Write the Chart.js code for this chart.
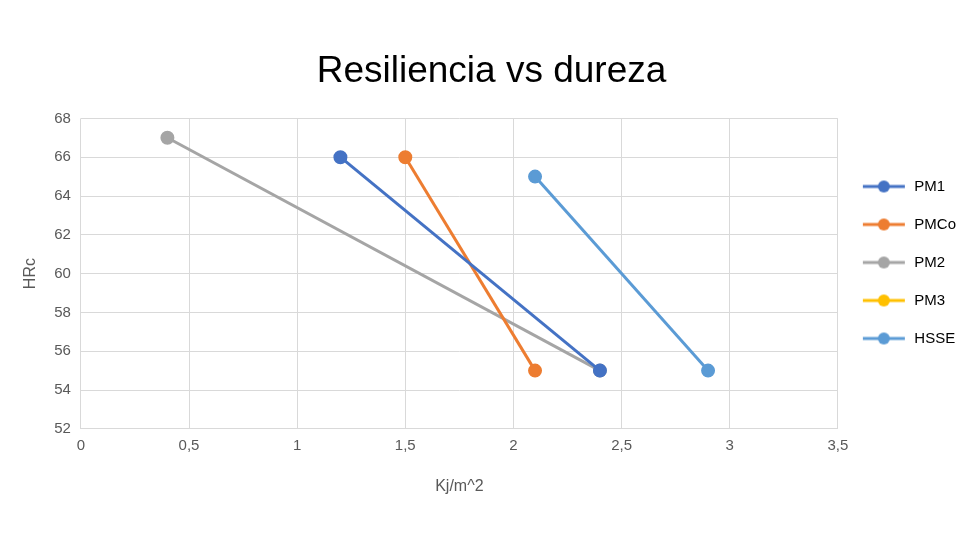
<!DOCTYPE html>
<html><head><meta charset="utf-8">
<script src="https://cdn.jsdelivr.net/npm/chart.js@4/dist/chart.umd.min.js"></script>
<style>html,body{margin:0;background:#fff}#w{width:980px;height:560px}</style>
</head><body><div id="w"><canvas id="c"></canvas></div>
<script>
const seriesNames=["PM1","PMCo","PM2","PM3","HSSE"];
const seriesColors=["#4472C4","#ED7D31","#A5A5A5","#FFC000","#5B9BD5"];
const pm1=[{x:1.2,y:66},{x:2.4,y:55}];
const pmco=[{x:1.5,y:66},{x:2.1,y:55}];
const pm2=[{x:0.4,y:67},{x:2.4,y:55}];
const pm3=[];
const hsse=[{x:2.1,y:65},{x:2.9,y:55}];
const allData=[pm1,pmco,pm2,pm3,hsse];
function icon(col){const c=document.createElement('canvas');c.width=46;c.height=14;const g=c.getContext('2d');
g.strokeStyle=col;g.lineWidth=3;g.beginPath();g.moveTo(2,7);g.lineTo(44,7);g.stroke();
g.fillStyle=col;g.beginPath();g.arc(23,7,6,0,Math.PI*2);g.fill();return c;}
const icons=seriesColors.map(icon);
new Chart(document.getElementById('c'),{type:'scatter',
data:{datasets:seriesNames.map((n,i)=>({label:n,data:allData[i],showLine:true,borderColor:seriesColors[i],backgroundColor:seriesColors[i],borderWidth:3,pointRadius:5.5,pointHoverRadius:5.5}))},
options:{responsive:true,maintainAspectRatio:false,animation:false,
layout:{padding:{left:17,right:14,top:25,bottom:60}},
plugins:{title:{display:true,text:'Resiliencia vs dureza',font:{family:'Liberation Sans',size:37,weight:'normal'},color:'#000',padding:{top:25,bottom:24}},
legend:{position:'right',labels:{usePointStyle:true,pointStyleWidth:46,padding:23,font:{family:'Liberation Sans',size:15},color:'#404040',
generateLabels:(ch)=>ch.data.datasets.map((d,i)=>({text:d.label,pointStyle:icons[i],fillStyle:d.borderColor,strokeStyle:d.borderColor,lineWidth:0,datasetIndex:i,hidden:false}))}},
tooltip:{enabled:false}},
scales:{x:{type:'linear',min:0,max:3.5,ticks:{stepSize:0.5,color:'#595959',font:{family:'Liberation Sans',size:15},padding:8,callback:v=>String(v).replace('.',',')},
grid:{color:'#d9d9d9',drawTicks:false},border:{color:'#d9d9d9'},
title:{display:true,text:'Kj/m^2',color:'#595959',font:{family:'Liberation Sans',size:16},padding:{top:14}}},
y:{min:52,max:68,ticks:{stepSize:2,color:'#595959',font:{family:'Liberation Sans',size:15},padding:10},
grid:{color:'#d9d9d9',drawTicks:false},border:{display:false},
title:{display:true,text:'HRc',color:'#595959',font:{family:'Liberation Sans',size:16}}}}}});
</script></body></html>
